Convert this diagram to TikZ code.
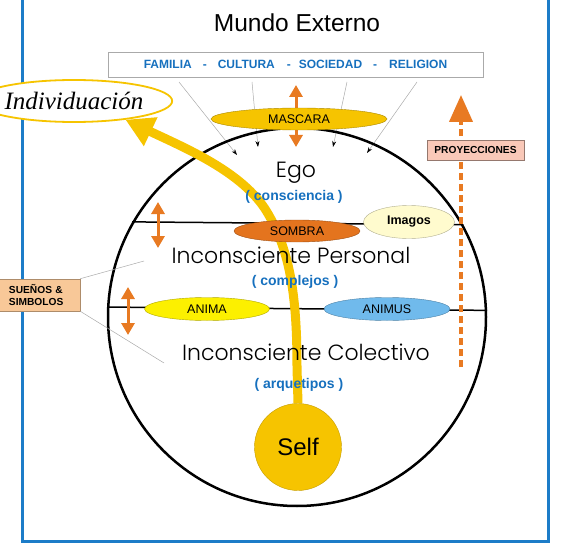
\documentclass[tikz,border=0pt]{standalone}
\usepackage{fontspec}
\setmainfont{Liberation Sans}
\newfontfamily\gotica{Poppins Light}
\newfontfamily\romana{Liberation Serif}
\usetikzlibrary{arrows.meta,shapes.geometric}

\definecolor{marco}{RGB}{28,124,200}
\definecolor{azul}{RGB}{22,112,190}
\definecolor{oro}{RGB}{246,196,0}
\definecolor{naranja}{RGB}{232,122,34}
\definecolor{sombra}{RGB}{228,116,30}
\definecolor{crema}{RGB}{255,251,206}
\definecolor{amarillo}{RGB}{252,240,0}
\definecolor{celeste}{RGB}{112,186,236}
\definecolor{durazno}{RGB}{248,200,152}
\definecolor{salmon}{RGB}{249,200,184}
\definecolor{gris}{RGB}{170,170,170}

\tikzset{
  capa/.style={ellipse, inner sep=0pt, draw=#1!70!black, line width=0.4pt, fill=#1,
    font=\fontsize{12.5}{14}\selectfont},
  titulo/.style={anchor=base, font=\gotica\fontsize{22}{26}\selectfont},
  nota/.style={anchor=base, text=azul, font=\bfseries\fontsize{14}{16}\selectfont},
  doble/.style={draw=naranja, line width=3pt,
    {Triangle[length=12pt,width=13pt]}-{Triangle[length=12pt,width=13pt]}},
  influjo/.style={draw=gris, line width=0.5pt, -{Stealth[length=6pt,width=4pt,color=black]}},
  rotulo/.style={rectangle, line width=0.6pt, inner sep=0pt,
    font=\bfseries\fontsize{10.2}{12}\selectfont}
}

\begin{document}
\begin{tikzpicture}[x=1pt,y=-1pt]
\useasboundingbox (0,0) rectangle (563,543);
\draw[marco, line width=3pt] (22,-5) -- (22,541) -- (548,541) -- (548,-5);

\node[anchor=base, font=\fontsize{24.5}{28}\selectfont] (mundo) at (297,32) {Mundo Externo};
\node[draw=gris, line width=0.6pt, minimum width=375pt, minimum height=25pt, text=azul,
  font=\bfseries\fontsize{12}{14}\selectfont] (fuentes) at (295.5,64.5)
  {FAMILIA\hspace{11pt}-\hspace{11pt}CULTURA\hspace{12pt}-\hspace{8pt}SOCIEDAD\hspace{11pt}-\hspace{12pt}RELIGION};
\foreach \xa/\xb/\yb in {179/237/155, 252/258/147, 347/333/147, 417/367/153}
  \draw[influjo] (\xa,82) -- (\xb,\yb);

\node[circle, draw, line width=2.5pt, minimum size=378pt, inner sep=0pt] (psique) at (297,317) {};
\draw[line width=1.5pt] (psique.150.2) -- (psique.29.8);
\draw[line width=1.5pt] (psique.177.9) -- (psique.2.1);

\draw[doble] (296,85) -- (296,147);
\draw[doble] (158,202) -- (158,248);
\draw[doble] (128,287) -- (128,335);
\draw[naranja, line width=4pt, dash pattern=on 7pt off 4pt,
  -{Triangle[length=27pt,width=23pt]}] (461,367) -- (461,95);
\node[rotulo, fill=salmon, draw=salmon!60!black, minimum width=97pt, minimum height=20pt]
  (proy) at (475.5,150) {PROYECCIONES};

\node[rotulo, fill=durazno, draw=durazno!70!black, minimum width=82pt, minimum height=32pt,
  align=left, text width=60pt] (suenos) at (39,295) {SUEÑOS \&\\SIMBOLOS};
\draw[gris, line width=0.5pt] (suenos.north east) -- (144,261);
\draw[gris, line width=0.5pt] (suenos.south east) -- (164,363);

\node[ellipse, draw=oro, line width=1.8pt, fill=white, minimum width=178pt, minimum height=42pt,
  inner sep=0pt, font=\romana\itshape\fontsize{25}{28}\selectfont] (indiv) at (74,101) {Individuación};
\node[circle, fill=oro, draw=oro!80!black, line width=0.4pt, minimum size=87pt, inner sep=0pt,
  font=\fontsize{24}{28}\selectfont] (self) at (298,447) {Self};
\draw[oro, line width=9pt, -{Triangle[length=28pt,width=30pt]}] (self.north) -- (297,367)
  .. controls (297,300) and (291,252) .. (267,212)
  .. controls (243,172) and (185,148) .. (indiv.-20);

\node[capa=oro, minimum width=176pt, minimum height=22pt] (mascara) at (299,119) {MASCARA};
\node[capa=sombra, minimum width=126pt, minimum height=22pt] (sombra) at (297,231) {SOMBRA};
\node[capa=crema, minimum width=91pt, minimum height=33pt,
  font=\bfseries\fontsize{12.5}{14}\selectfont] (imagos) at (409,222) {Imagos};
\node[capa=amarillo, minimum width=125pt, minimum height=23pt] (anima) at (207,309) {ANIMA};
\node[capa=celeste, minimum width=126pt, minimum height=23pt] (animus) at (387,309) {ANIMUS};

\node[titulo] (ego) at (296,177) {Ego};
\node[nota] (consciencia) at (294,200) {( consciencia )};
\node[titulo] (personal) at (291,263) {Inconsciente Personal};
\node[nota] (complejos) at (295,285) {( complejos )};
\node[titulo] (colectivo) at (306,360) {Inconsciente Colectivo};
\node[nota] (arquetipos) at (299,388) {( arquetipos )};
\end{tikzpicture}
\end{document}
